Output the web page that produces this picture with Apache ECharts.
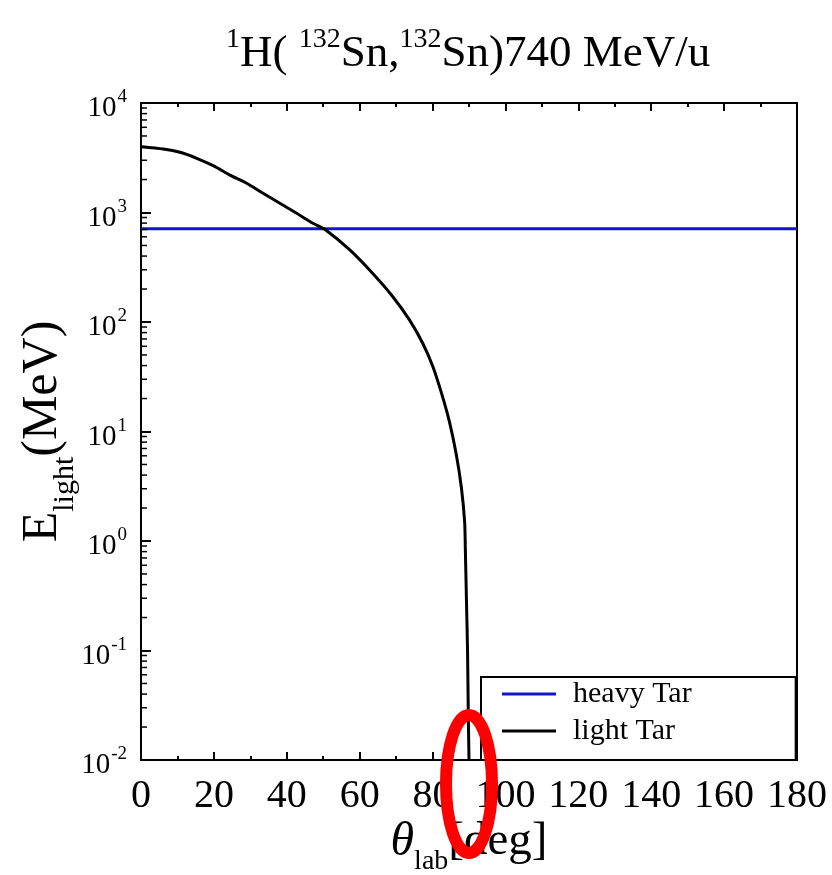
<!DOCTYPE html>
<html>
<head>
<meta charset="utf-8">
<script src="https://cdn.jsdelivr.net/npm/echarts@6/dist/echarts.min.js"></script>
<style>html,body{margin:0;padding:0;background:#fff;}#c{width:832px;height:875px;}</style>
</head>
<body>
<div id="c"></div>
<script>
// ---- data ----
const seriesNames = ['heavy Tar', 'light Tar'];
const heavyTheta = [0, 180];
const heavyE = [710, 710];
const lightTheta = [0, 6.1, 10.7, 15.3, 19.8, 24.4, 29.0, 33.5, 38.1, 42.7, 47.2, 50.5, 57.3, 63.6, 69.1, 73.7, 77.3, 80.1, 82.8, 84.7, 86.5, 87.9, 88.8, 89.0, 89.3, 89.6, 89.8, 90];
const lightE = [3990, 3800, 3545, 3127, 2675, 2198, 1849, 1497, 1213, 984, 797, 700, 455, 277, 170, 104, 64, 39, 20.5, 12.0, 6.2, 3.1, 1.5, 0.83, 0.29, 0.10, 0.027, 0.01];
const xTicks = [0, 20, 40, 60, 80, 100, 120, 140, 160, 180];
const yDecades = [0.01, 0.1, 1, 10, 100, 1000, 10000];
const minorMultipliers = [2, 3, 4, 5, 6, 7, 8, 9];
const markTheta = 90;   // angle circled in red on the reference

const FONT = '"Liberation Serif", "DejaVu Serif", serif';
const chart = echarts.init(document.getElementById('c'), null, {renderer: 'canvas'});

const minorVals = [];
for (let i = 0; i < yDecades.length - 1; i++) {
  minorMultipliers.forEach(m => minorVals.push([0, yDecades[i] * m]));
}

const option = {
  animation: false,
  backgroundColor: '#fff',
  title: {
    text: '{s|1}{n|H( }{s|132}{n|Sn,}{s|132}{n|Sn)740 MeV/u}',
    left: 221, top: 21,
    textStyle: {
      fontWeight: 'normal',
      rich: {
        n: {fontFamily: FONT, fontSize: 45, fontWeight: 'normal', color: '#000', lineHeight: 51, verticalAlign: 'bottom'},
        s: {fontFamily: FONT, fontSize: 28, fontWeight: 'normal', color: '#000', lineHeight: 51, verticalAlign: 'top'}
      }
    }
  },
  grid: {left: 141, right: 35, top: 103, bottom: 115, outerBoundsMode: 'none', containLabel: false,
    show: true, borderColor: '#000', borderWidth: 2, backgroundColor: 'transparent'},
  legend: {
    data: seriesNames,
    orient: 'vertical',
    left: 481, top: 677,
    backgroundColor: '#fff',
    borderColor: '#000', borderWidth: 2, borderRadius: 0,
    padding: [2, 104, 14, 21],
    itemGap: 7,
    itemWidth: 54, itemHeight: 3,
    icon: 'rect',
    textStyle: {fontFamily: FONT, fontSize: 30, color: '#000', lineHeight: 30, padding: [0, 0, 0, 12]}
  },
  xAxis: [{
    type: 'value', min: 0, max: 180, interval: 20,
    name: '{t|θ}{sub|lab}{n|[deg]}',
    nameLocation: 'middle', nameGap: 58, nameMoveOverlap: false,
    nameTextStyle: {
      rich: {
        t: {fontFamily: FONT, fontStyle: 'italic', fontSize: 48, color: '#000', lineHeight: 52, verticalAlign: 'top'},
        sub: {fontFamily: FONT, fontSize: 28, color: '#000', lineHeight: 52, verticalAlign: 'bottom', padding: [0, 0, -6, 0]},
        n: {fontFamily: FONT, fontSize: 47, color: '#000', lineHeight: 52, verticalAlign: 'top'}
      }
    },
    axisLine: {lineStyle: {color: '#000', width: 2}},
    axisTick: {inside: true, length: 8, lineStyle: {color: '#000', width: 2}},
    minorTick: {show: true, splitNumber: 2, length: 4, lineStyle: {color: '#000', width: 2}},
    splitLine: {show: false},
    axisLabel: {fontFamily: FONT, fontSize: 40, color: '#000', margin: 16,
      formatter: v => xTicks.indexOf(v) >= 0 ? String(v) : ''}
  }, {
    type: 'value', min: 0, max: 180, interval: 20, position: 'top',
    axisLine: {lineStyle: {color: '#000', width: 2}},
    axisTick: {inside: true, length: 8, lineStyle: {color: '#000', width: 2}},
    minorTick: {show: true, splitNumber: 2, length: 4, lineStyle: {color: '#000', width: 2}},
    splitLine: {show: false},
    axisLabel: {show: false}
  }],
  yAxis: {
    type: 'log', logBase: 10, min: yDecades[0], max: yDecades[yDecades.length - 1],
    name: '{n|E}{sub|light}{n|(MeV)}',
    nameLocation: 'middle', nameGap: 67, nameRotate: 90, nameMoveOverlap: false,
    nameTextStyle: {
      rich: {
        n: {fontFamily: FONT, fontSize: 50, color: '#000', lineHeight: 56, verticalAlign: 'top'},
        sub: {fontFamily: FONT, fontSize: 30, color: '#000', lineHeight: 56, verticalAlign: 'bottom', padding: [0, 0, -6, 0]}
      }
    },
    axisLine: {show: true, lineStyle: {color: '#000', width: 2}},
    axisTick: {show: true, inside: true, length: 10, lineStyle: {color: '#000', width: 2}},
    splitLine: {show: false},
    axisLabel: {
      margin: 14,
      formatter: v => '{b|10}{e|' + Math.round(Math.log10(v)) + '}',
      rich: {
        b: {fontFamily: FONT, fontSize: 29, color: '#000', lineHeight: 40, verticalAlign: 'bottom'},
        e: {fontFamily: FONT, fontSize: 19, color: '#000', lineHeight: 40, verticalAlign: 'top', padding: [5, 0, 0, 1]}
      }
    }
  },
  series: [{
    name: seriesNames[0], type: 'line', showSymbol: false, symbol: 'none',
    data: heavyTheta.map((t, i) => [t, heavyE[i]]),
    lineStyle: {color: '#1414cc', width: 3}, itemStyle: {color: '#1414cc'}, z: 3
  }, {
    name: seriesNames[1], type: 'line', showSymbol: false, symbol: 'none', smooth: 0.25,
    data: lightTheta.map((t, i) => [t, lightE[i]]),
    lineStyle: {color: '#000', width: 3}, itemStyle: {color: '#000'}, z: 4, clip: true
  }, {
    name: 'minorTicks', type: 'custom', silent: true, z: 5, clip: false,
    data: minorVals,
    renderItem: (params, api) => {
      const p = api.coord([api.value(0), api.value(1)]);
      return {type: 'line', shape: {x1: p[0], y1: p[1], x2: p[0] + 6, y2: p[1]}, style: {stroke: '#000', lineWidth: 1.5}};
    }
  }]
};
chart.setOption(option);

// red annotation ellipse around the 90 degree point on the x axis
const cp = chart.convertToPixel({xAxisIndex: 0, yAxisIndex: 0}, [markTheta, yDecades[0]]);
chart.setOption({
  graphic: [{
    type: 'ellipse', z: 100,
    shape: {cx: cp[0], cy: cp[1] + 24, rx: 23, ry: 69},
    style: {fill: 'none', stroke: '#ff0000', lineWidth: 12}
  }]
});
</script>
</body>
</html>
